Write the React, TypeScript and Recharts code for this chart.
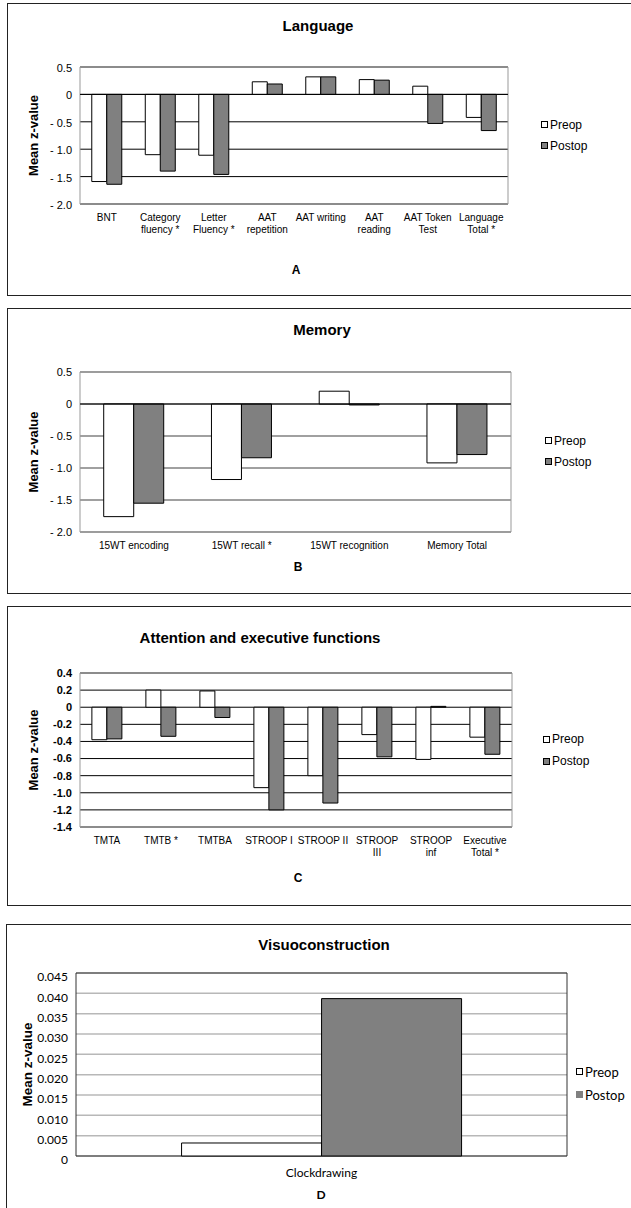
import { BarChart, Bar, XAxis, YAxis, CartesianGrid, Legend, ReferenceArea, ReferenceLine } from "recharts"

const ARIAL = "'Liberation Sans', Arial, sans-serif"
const CALIBRI = "Lato, 'Open Sans', sans-serif"

const seriesOrder = ["Preop", "Postop"]

// A - Language
const languageTests = ["BNT", "Category\nfluency *", "Letter\nFluency *", "AAT\nrepetition", "AAT writing", "AAT\nreading", "AAT Token\nTest", "Language\nTotal *"]
const languagePreop = [-1.59, -1.1, -1.11, 0.23, 0.32, 0.27, 0.15, -0.42]
const languagePostop = [-1.64, -1.4, -1.46, 0.19, 0.32, 0.26, -0.53, -0.66]
const languageTicks = [0.5, 0, -0.5, -1, -1.5, -2]

// B - Memory
const memoryTests = ["15WT encoding", "15WT recall *", "15WT recognition", "Memory Total"]
const memoryPreop = [-1.76, -1.18, 0.2, -0.92]
const memoryPostop = [-1.55, -0.84, -0.015, -0.79]
const memoryTicks = [0.5, 0, -0.5, -1, -1.5, -2]

// C - Attention and executive functions
const attentionTests = ["TMTA", "TMTB *", "TMTBA", "STROOP I", "STROOP II", "STROOP\nIII", "STROOP\ninf", "Executive\nTotal *"]
const attentionPreop = [-0.38, 0.2, 0.19, -0.94, -0.8, -0.32, -0.61, -0.35]
const attentionPostop = [-0.37, -0.34, -0.12, -1.2, -1.12, -0.58, 0.01, -0.55]
const attentionTicks = [0.4, 0.2, 0, -0.2, -0.4, -0.6, -0.8, -1.0, -1.2, -1.4]

// D - Visuoconstruction
const visuoTests = ["Clockdrawing"]
const visuoPreop = [0.0032]
const visuoPostop = [0.0387]
const visuoTicks = [0, 0.005, 0.01, 0.015, 0.02, 0.025, 0.03, 0.035, 0.04, 0.045]

const toRows = (tests: string[], preop: number[], postop: number[]) =>
  tests.map((test, i) => ({ test, Preop: preop[i], Postop: postop[i] }))

const spacedTick = (v: number) => (v === 0 ? "0" : v < 0 ? `- ${Math.abs(v).toFixed(1)}` : v.toFixed(1))
const plainTick = (v: number) => (v === 0 ? "0" : v.toFixed(1))
const smallTick = (v: number) => (v === 0 ? "0" : v.toFixed(3))

const MultiLineTick = ({ x, y, payload, fontSize, fontFamily, lineHeight }: any) => (
  <text x={x} y={y} textAnchor="middle" fontSize={fontSize} fontFamily={fontFamily} fill="#000">
    {String(payload.value).split("\n").map((line: string, i: number) => (
      <tspan key={i} x={x} dy={i === 0 ? "0.71em" : lineHeight}>
        {line}
      </tspan>
    ))}
  </text>
)

const LegendBox = ({ payload, fontSize, fontFamily, rowHeight, iconSize, gapless }: any) => {
  const items = [...(payload || [])].sort(
    (a: any, b: any) => seriesOrder.indexOf(a.value) - seriesOrder.indexOf(b.value)
  )
  return (
    <div style={{ fontFamily, fontSize, color: "#000" }}>
      {items.map((entry: any) => {
        const fill = entry.payload?.fill ?? entry.color
        const border = gapless && entry.value === "Postop" ? "none" : "1px solid #000"
        return (
          <div key={entry.value} style={{ display: "flex", alignItems: "center", height: rowHeight }}>
            <span style={{ display: "inline-block", width: iconSize, height: iconSize, background: fill, border, boxSizing: "border-box", marginRight: 2 }} />
            <span>{entry.value}</span>
          </div>
        )
      })}
    </div>
  )
}

const Caption = ({ cx, cy, size, bold = true, font = ARIAL, children }: any) => (
  <div
    style={{
      position: "absolute",
      left: cx - 200,
      width: 400,
      top: cy - 10,
      lineHeight: "20px",
      textAlign: "center",
      fontFamily: font,
      fontSize: size,
      fontWeight: bold ? 700 : 400,
      color: "#000",
      whiteSpace: "nowrap",
    }}
  >
    {children}
  </div>
)

const PanelBox = ({ top, height, left = 7 }: any) => (
  <div style={{ position: "absolute", left, top, width: 700, height, border: "1px solid #222", boxSizing: "border-box" }} />
)

function PanelChart(props: any) {
  const {
    top, height, data, ticks, domain, tickFormat, margin, yWidth, gap,
    gridStroke, gridWidth = 1, borderStroke, zeroLine, yTickBold = false,
    font = ARIAL, tickSize = 11, tickDy = 0, catSize = 10, catLineHeight = 12, catMargin = 4,
    labelOffset = 33, labelSize = 13, legend,
  } = props
  return (
    <div style={{ position: "absolute", left: 0, top }}>
      <BarChart width={631} height={height} data={data} margin={margin} barGap={0} barCategoryGap={gap}>
        <CartesianGrid vertical={false} stroke={gridStroke} strokeWidth={gridWidth} />
        <ReferenceArea y1={domain[0]} y2={domain[1]} fill="none" stroke={borderStroke} strokeWidth={1} ifOverflow="visible" />
        <XAxis
          dataKey="test"
          interval={0}
          axisLine={false}
          tickLine={false}
          tickMargin={catMargin}
          height={40}
          tick={(p: any) => <MultiLineTick {...p} fontSize={catSize} fontFamily={font} lineHeight={catLineHeight} />}
        />
        <YAxis
          type="number"
          domain={domain}
          ticks={ticks}
          interval={0}
          width={yWidth}
          axisLine={false}
          tickLine={false}
          tickFormatter={tickFormat}
          tick={(p: any) => (
            <text
              x={p.x}
              y={p.y + tickDy}
              dy="0.355em"
              textAnchor="end"
              fontSize={tickSize}
              fontFamily={font}
              fontWeight={yTickBold ? 700 : 400}
              fill="#000"
            >
              {tickFormat(p.payload.value)}
            </text>
          )}
          label={{
            value: "Mean z-value",
            angle: -90,
            position: "insideLeft",
            offset: labelOffset,
            style: { textAnchor: "middle", fontWeight: 700, fontSize: labelSize, fontFamily: ARIAL, fill: "#000" },
          }}
        />
        {zeroLine && <ReferenceLine y={0} stroke="#000" strokeWidth={1} />}
        <Legend
          layout="horizontal"
          verticalAlign="middle"
          align="center"
          wrapperStyle={{ left: legend.left, top: legend.top, width: 90 }}
          content={(p: any) => (
            <LegendBox
              payload={p.payload}
              fontSize={legend.size}
              fontFamily={legend.font}
              rowHeight={legend.row}
              iconSize={legend.icon}
              gapless={legend.gapless}
            />
          )}
        />
        <Bar dataKey="Preop" name="Preop" fill="#ffffff" stroke="#000" strokeWidth={1} isAnimationActive={false} />
        <Bar dataKey="Postop" name="Postop" fill="#808080" stroke="#000" strokeWidth={1} isAnimationActive={false} />
      </BarChart>
    </div>
  )
}

export default function App() {
  return (
    <div style={{ position: "absolute", left: 0, top: 0, width: 631, height: 1208, overflow: "hidden", background: "#fff" }}>
      {/* A */}
      <PanelBox top={3} height={293} />
      <Caption cx={318} cy={26} size={15}>Language</Caption>
      <PanelChart
        top={50}
        height={200}
        data={toRows(languageTests, languagePreop, languagePostop)}
        ticks={languageTicks}
        domain={[-2, 0.5]}
        tickFormat={spacedTick}
        margin={{ top: 17, right: 123, left: 0, bottom: 6 }}
        yWidth={80}
        gap="22%"
        gridStroke="#000"
        borderStroke="#999"
        zeroLine
        tickDy={1}
        legend={{ left: 541, top: 64, size: 12, font: ARIAL, row: 21, icon: 7 }}
      />
      <Caption cx={296} cy={270} size={12}>A</Caption>

      {/* B */}
      <PanelBox top={308} height={286} />
      <Caption cx={322} cy={330} size={15}>Memory</Caption>
      <PanelChart
        top={350}
        height={230}
        data={toRows(memoryTests, memoryPreop, memoryPostop)}
        ticks={memoryTicks}
        domain={[-2, 0.5]}
        tickFormat={spacedTick}
        margin={{ top: 22, right: 120, left: 0, bottom: 8 }}
        yWidth={80}
        gap="22%"
        gridStroke="#808080"
        gridWidth={1.5}
        borderStroke="#999"
        zeroLine
        legend={{ left: 545, top: 80, size: 12, font: ARIAL, row: 21, icon: 7 }}
      />
      <Caption cx={298} cy={567} size={12}>B</Caption>

      {/* C */}
      <PanelBox top={606} height={300} />
      <Caption cx={260} cy={638} size={15}>Attention and executive functions</Caption>
      <PanelChart
        top={650}
        height={230}
        data={toRows(attentionTests, attentionPreop, attentionPostop)}
        ticks={attentionTicks}
        domain={[-1.4, 0.4]}
        tickFormat={plainTick}
        margin={{ top: 23, right: 119, left: 0, bottom: 13 }}
        yWidth={80}
        gap="22%"
        gridStroke="#000"
        borderStroke="#999"
        yTickBold
        legend={{ left: 543, top: 78, size: 12, font: ARIAL, row: 22, icon: 7 }}
      />
      <Caption cx={298} cy={878} size={12}>C</Caption>

      {/* D */}
      <PanelBox top={924} height={320} left={6} />
      <Caption cx={324} cy={945} size={15}>Visuoconstruction</Caption>
      <PanelChart
        top={950}
        height={250}
        data={toRows(visuoTests, visuoPreop, visuoPostop)}
        ticks={visuoTicks}
        domain={[0, 0.045]}
        tickFormat={smallTick}
        margin={{ top: 23, right: 64, left: 0, bottom: 4 }}
        yWidth={76}
        gap="21.5%"
        gridStroke="#b8b8b8"
        gridWidth={1.5}
        borderStroke="#333"
        font={CALIBRI}
        tickSize={12}
        tickDy={4}
        catSize={12}
        catMargin={6}
        labelOffset={27}
        labelSize={13.5}
        legend={{ left: 576, top: 110, size: 13, font: CALIBRI, row: 23, icon: 7, gapless: true }}
      />
      <Caption cx={321} cy={1195} size={12} font={CALIBRI}>D</Caption>
    </div>
  )
}
